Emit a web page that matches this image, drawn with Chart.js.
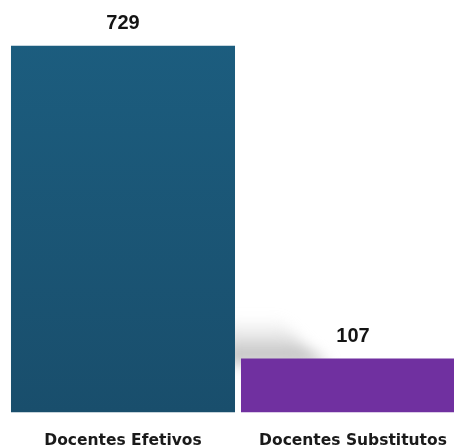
<!DOCTYPE html>
<html>
<head>
<meta charset="utf-8">
<script src="https://cdn.jsdelivr.net/npm/chart.js@4/dist/chart.umd.min.js"></script>
<style>
  html, body { margin:0; padding:0; background:#fff; overflow:hidden; }
  #wrap { position:relative; width:470px; height:461px; }
</style>
</head>
<body>
<div id="wrap"><canvas id="docentesChart"></canvas></div>
<script>
/* ===== data ===== */
const categories = ["Docentes Efetivos", "Docentes Substitutos"];
const quantidades = [729, 107];
const barColors = ["#1b5a7c", "#7030a0"];

/* ===== value labels above bars ===== */
const valueLabels = {
    id: "valueLabels",
    afterDatasetsDraw(chart){
        const ctx = chart.ctx;
        const meta = chart.getDatasetMeta(0);
        ctx.save();
        ctx.font = "bold 20px 'Liberation Sans', Arial, sans-serif";
        ctx.fillStyle = "#141414";
        ctx.textAlign = "center";
        ctx.textBaseline = "alphabetic";
        meta.data.forEach((bar, i) => {
            ctx.fillText(String(quantidades[i]), bar.x, bar.y - 17);
        });
        ctx.restore();
    }
};

/* ===== soft grey shadow between the bars ===== */
const barShadow = {
    id: "barShadow",
    beforeDatasetsDraw(chart){
        const ctx = chart.ctx;
        const meta = chart.getDatasetMeta(0);
        const b1 = meta.data[0], b2 = meta.data[1];
        if(!b1 || !b2) return;
        const x0 = b1.x + b1.width / 2;
        const y1 = b2.y;
        ctx.save();
        ctx.filter = "blur(7px)";
        const g = ctx.createLinearGradient(0, y1 - 40, 0, y1);
        g.addColorStop(0, "rgba(205,205,205,0)");
        g.addColorStop(1, "rgba(185,185,185,0.95)");
        ctx.fillStyle = g;
        ctx.beginPath();
        ctx.moveTo(x0 - 10, y1 - 40);
        ctx.lineTo(x0 + 45, y1 - 40);
        ctx.quadraticCurveTo(x0 + 70, y1 - 8, x0 + 95, y1 + 5);
        ctx.lineTo(x0 - 10, y1 + 5);
        ctx.closePath();
        ctx.fill();
        ctx.restore();
    }
};

function barFill(context){
    const chart = context.chart;
    const area = chart.chartArea;
    if(!area) return barColors[context.dataIndex];
    if(context.dataIndex === 0){
        const g = chart.ctx.createLinearGradient(0, area.top, 0, area.bottom);
        g.addColorStop(0, "#1c5e80");
        g.addColorStop(1, "#194e6c");
        return g;
    }
    return barColors[context.dataIndex];
}

new Chart(document.getElementById("docentesChart"), {
    type: "bar",
    data: {
        labels: categories,
        datasets: [{
            data: quantidades,
            backgroundColor: barFill,
            borderWidth: 0,
            categoryPercentage: 1,
            barPercentage: 0.974
        }]
    },
    options: {
        responsive: true,
        maintainAspectRatio: false,
        animation: false,
        layout: { padding: { left: 8, right: 2, top: 10, bottom: 0 } },
        plugins: {
            legend: { display: false },
            tooltip: { enabled: false }
        },
        scales: {
            x: {
                grid: { display: false },
                border: { display: false },
                ticks: {
                    color: "#1a1a1a",
                    padding: 11,
                    font: { family: "'DejaVu Sans', sans-serif", size: 15.5, weight: "bold" }
                }
            },
            y: {
                display: false,
                min: 0,
                max: 800
            }
        }
    },
    plugins: [barShadow, valueLabels]
});
</script>
</body>
</html>
